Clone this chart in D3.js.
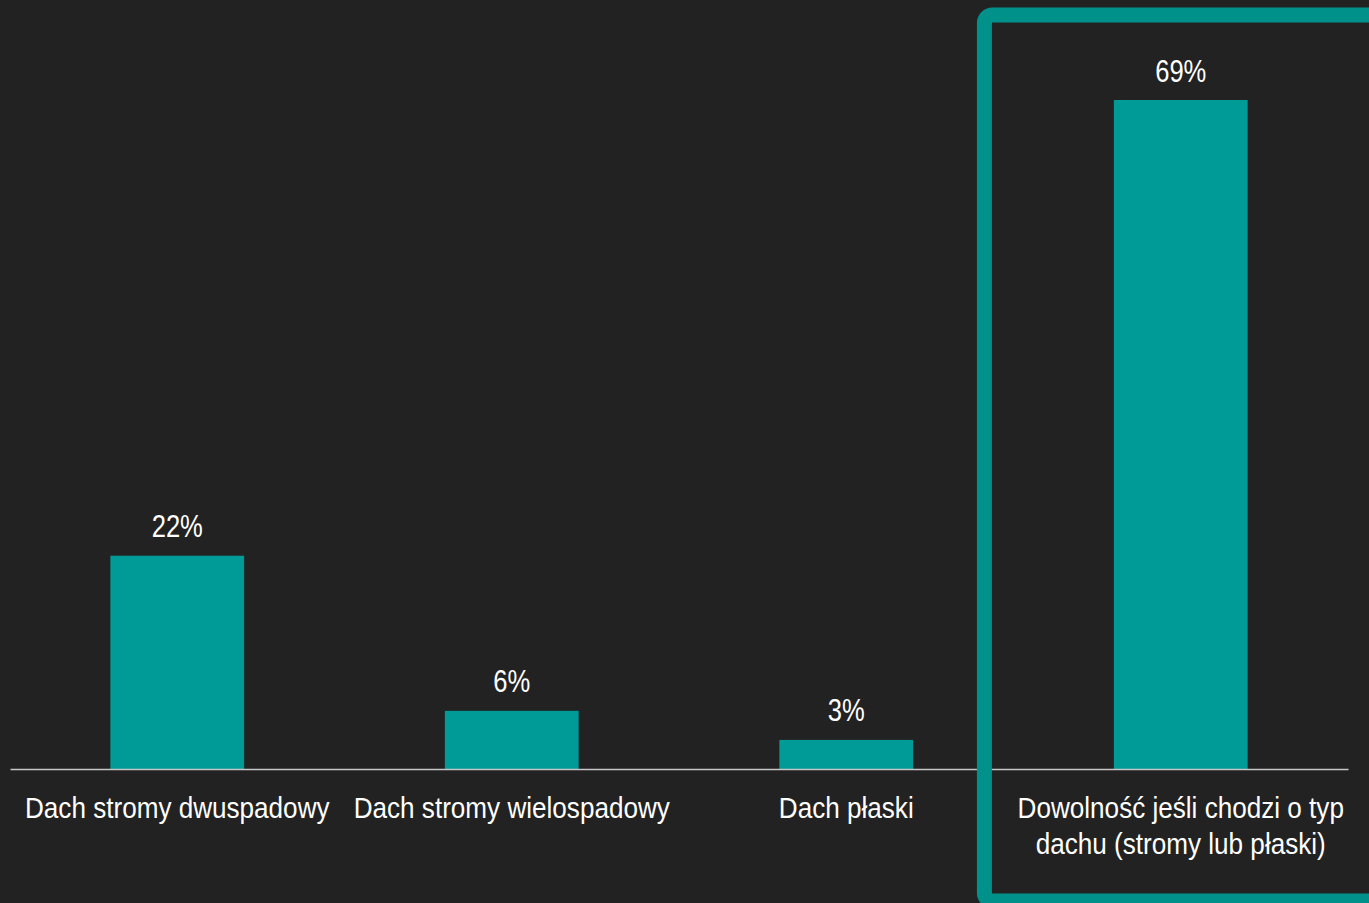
<!DOCTYPE html>
<html>
<head>
<meta charset="utf-8">
<script src="https://cdn.jsdelivr.net/npm/d3@7"></script>
<style>
  html, body { margin: 0; padding: 0; background: #222222; }
  svg { display: block; }
  text { font-family: "Liberation Sans", Arial, sans-serif; fill: #ffffff; }
</style>
</head>
<body>
<svg id="chart" width="1369" height="903"></svg>
<script>
// Roof type preference (share of respondents)
const categories = [
  "Dach stromy dwuspadowy",
  "Dach stromy wielospadowy",
  "Dach płaski",
  "Dowolność jeśli chodzi o typ dachu (stromy lub płaski)"
];
const values = [22, 6, 3, 69];
const valueLabels = ["22%", "6%", "3%", "69%"];
const highlighted = ["Dowolność jeśli chodzi o typ dachu (stromy lub płaski)"];

const W = 1369, H = 903;
// horizontal squeeze to get a condensed face
const narrowCat = 0.87;
const narrowVal = 0.80;
const svg = d3.select("#chart");

const x = d3.scaleBand()
  .domain(categories)
  .range([10, 1348])
  .paddingInner(0.6)
  .paddingOuter(0.3);

const y = d3.scaleLinear()
  .domain([0, 69])
  .range([769, 100]);

const barColor = "#009a97";

// bars
svg.append("g").selectAll("rect")
  .data(categories)
  .join("rect")
  .attr("x", d => x(d))
  .attr("y", (d, i) => y(values[i]))
  .attr("width", x.bandwidth())
  .attr("height", (d, i) => y(0) - y(values[i]))
  .attr("fill", barColor);

// baseline axis
const axis = d3.axisBottom(x).tickSize(0).tickFormat("");
const axisG = svg.append("g")
  .attr("transform", `translate(0,${y(0)})`)
  .call(axis);
axisG.select(".domain").attr("stroke", "#c8c8c8").attr("stroke-width", 1.6);

// value labels
svg.append("g").selectAll("text")
  .data(categories)
  .join("text")
  .attr("transform", (d, i) =>
    `translate(${x(d) + x.bandwidth() / 2},${y(values[i]) - 18.5}) scale(${narrowVal},1)`)
  .attr("text-anchor", "middle")
  .attr("font-size", 32)
  .text((d, i) => valueLabels[i]);

// category labels, wrapped to band step
function wrap(textSel, width, lineHeight) {
  textSel.each(function () {
    const t = d3.select(this);
    const words = t.text().split(/\s+/);
    t.text(null);
    let line = [];
    let tspan = t.append("tspan").attr("x", 0).attr("dy", 0);
    for (const w of words) {
      line.push(w);
      tspan.text(line.join(" "));
      if (tspan.node().getComputedTextLength() > width && line.length > 1) {
        line.pop();
        tspan.text(line.join(" "));
        line = [w];
        tspan = t.append("tspan").attr("x", 0).attr("dy", lineHeight).text(w);
      }
    }
  });
}

svg.append("g").selectAll("text")
  .data(categories)
  .join("text")
  .attr("transform", d => `translate(${x(d) + x.bandwidth() / 2},818) scale(${narrowCat},1)`)
  .attr("text-anchor", "middle")
  .attr("font-size", 30)
  .text(d => d)
  .call(wrap, x.step() / narrowCat, 36);

// highlight frame around the selected category
svg.append("g").selectAll("rect")
  .data(highlighted)
  .join("rect")
  .attr("x", d => x(d) - x.step() * 0.387)
  .attr("y", 15)
  .attr("width", 500)
  .attr("height", 886)
  .attr("rx", 8)
  .attr("fill", "none")
  .attr("stroke", "#00928a")
  .attr("stroke-width", 15);
</script>
</body>
</html>
